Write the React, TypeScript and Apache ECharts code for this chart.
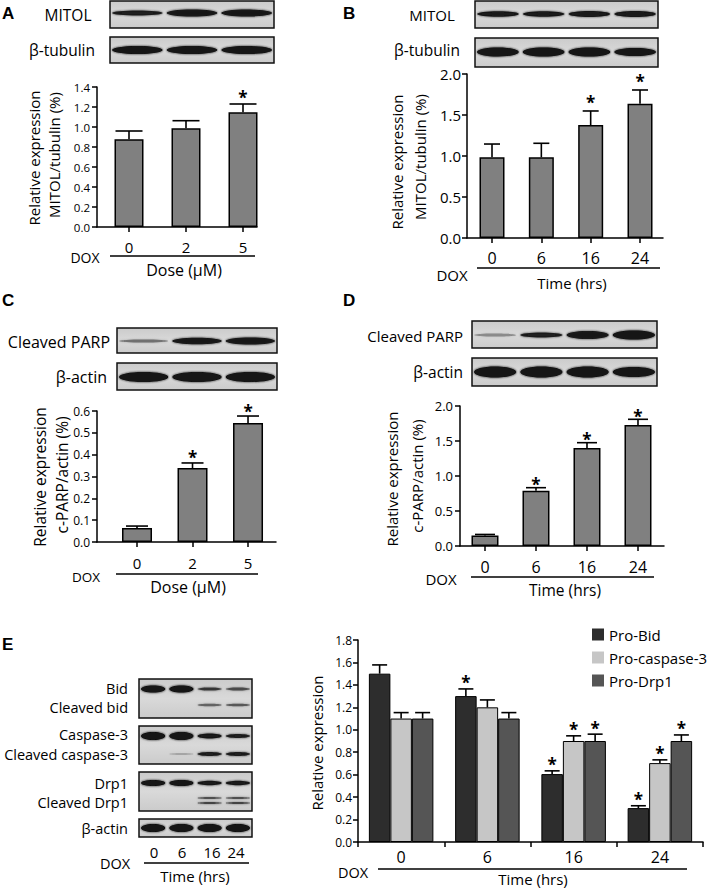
import React, { useEffect, useRef } from "react";
import * as echarts from "echarts";

// ---------- DATA ----------
const CATS_A = ["0", "2", "5"];
const VAL_A = [0.877, 0.987, 1.147];
const ERR_A = [0.96, 1.063, 1.23];
const SIG_A = [0, 0, 1];

const CATS_B = ["0", "6", "16", "24"];
const VAL_B = [0.984, 0.984, 1.378, 1.638];
const ERR_B = [1.146, 1.155, 1.549, 1.805];
const SIG_B = [0, 0, 1, 1];

const CATS_C = ["0", "2", "5"];
const VAL_C = [0.064, 0.339, 0.545];
const ERR_C = [0.073, 0.362, 0.577];
const SIG_C = [0, 1, 1];

const CATS_D = ["0", "6", "16", "24"];
const VAL_D = [0.15, 0.79, 1.4, 1.73];
const ERR_D = [0.165, 0.833, 1.476, 1.81];
const SIG_D = [0, 1, 1, 1];

const CATS_E = ["0", "6", "16", "24"];
const NAMES_E = ["Pro-Bid", "Pro-caspase-3", "Pro-Drp1"];
const BID_E = [1.5, 1.3, 0.605, 0.302];
const BID_ERR_E = [1.578, 1.364, 0.634, 0.323];
const BID_SIG_E = [0, 1, 1, 1];
const CASP_E = [1.1, 1.2, 0.9, 0.703];
const CASP_ERR_E = [1.153, 1.266, 0.946, 0.732];
const CASP_SIG_E = [0, 0, 1, 1];
const DRP_E = [1.1, 1.1, 0.9, 0.9];
const DRP_ERR_E = [1.153, 1.153, 0.961, 0.954];
const DRP_SIG_E = [0, 0, 1, 1];

// ---------- STYLE ----------
const FONT = "'Open Sans', sans-serif";
const BAR_GRAY = "#808080";
const E_COLORS = ["#2d2d2d", "#c6c6c6", "#555555"];

// western-blot decoration (positions only)
const BLOTS = [
  { x0: 110, x1: 274, y0: 1, y1: 28, n: 3, bands: [{ y: 13, l: [[0.85, 5], [0.95, 7], [0.95, 7]] }] },
  { x0: 110, x1: 274, y0: 37, y1: 63, n: 3, bands: [{ y: 50, l: [[1, 8], [1, 8], [1, 8]] }] },
  { x0: 475, x1: 658, y0: 1, y1: 28, n: 4, bands: [{ y: 14, l: [[0.9, 5.5], [0.9, 5.5], [0.9, 6], [0.9, 6]] }] },
  { x0: 475, x1: 658, y0: 38, y1: 67, n: 4, bands: [{ y: 52, l: [[1, 9], [1, 9], [1, 9], [1, 8]] }] },
  { x0: 117, x1: 277, y0: 328, y1: 353, n: 3, bands: [{ y: 341, l: [[0.45, 3], [0.95, 6.5], [0.95, 7]] }] },
  { x0: 117, x1: 277, y0: 363, y1: 390, n: 3, bands: [{ y: 377, l: [[1, 10], [1, 10], [1, 10]] }] },
  { x0: 472, x1: 657, y0: 321, y1: 348, n: 4, bands: [{ y: 335, l: [[0.35, 3], [0.85, 5], [0.95, 8], [1, 9]] }] },
  { x0: 472, x1: 657, y0: 358, y1: 386, n: 4, bands: [{ y: 372, l: [[1, 11], [1, 11], [1, 11], [1, 10]] }] },
  {
    x0: 139, x1: 252, y0: 679, y1: 718, n: 4,
    bands: [
      { y: 689, l: [[1, 7], [1, 7], [0.7, 3], [0.6, 3]] },
      { y: 705, l: [[0, 0], [0, 0], [0.5, 2.5], [0.55, 2.5]] },
    ],
  },
  {
    x0: 139, x1: 252, y0: 726, y1: 764, n: 4,
    bands: [
      { y: 736, l: [[1, 8], [1, 8], [0.9, 5], [0.85, 4]] },
      { y: 754, l: [[0, 0], [0.2, 2], [0.85, 4], [0.85, 4]] },
    ],
  },
  {
    x0: 139, x1: 252, y0: 772, y1: 811, n: 4,
    bands: [
      { y: 783, l: [[1, 6], [1, 6], [0.9, 4.5], [0.9, 4.5]] },
      { y: 798, l: [[0, 0], [0, 0], [0.6, 2], [0.6, 2]] },
      { y: 803, l: [[0, 0], [0, 0], [0.65, 2], [0.65, 2]] },
    ],
  },
  { x0: 139, x1: 252, y0: 819, y1: 837, n: 4, bands: [{ y: 828, l: [[1, 8], [1, 8], [1, 8], [1, 8]] }] },
];

function blotElements(): any[] {
  const out: any[] = [];
  BLOTS.forEach((b) => {
    out.push({
      type: "rect",
      shape: { x: b.x0, y: b.y0, width: b.x1 - b.x0, height: b.y1 - b.y0 },
      style: {
        fill: new echarts.graphic.LinearGradient(0, 0, 0, 1, [
          { offset: 0, color: "#cbcbcb" },
          { offset: 0.5, color: "#d9d9d9" },
          { offset: 1, color: "#cbcbcb" },
        ]),
        stroke: "#111",
        lineWidth: 1.5,
      },
    });
    const lw = (b.x1 - b.x0) / b.n;
    b.bands.forEach((band) => {
      band.l.forEach(([a, t], i) => {
        if (a <= 0 || t <= 0) return;
        const col = `rgba(18,18,18,${a})`;
        out.push({
          type: "ellipse",
          shape: { cx: b.x0 + lw * (i + 0.5), cy: band.y, rx: lw * 0.5 - 2, ry: t / 2 },
          style: { fill: col, shadowBlur: 2, shadowColor: col },
        });
      });
    });
  });
  return out;
}

function txt(x: number, y: number, text: string, size: number, align = "center", extra: any = {}) {
  return {
    type: "text",
    x,
    y,
    rotation: extra.rotation || 0,
    style: {
      text,
      fontSize: size,
      fontFamily: extra.family || FONT,
      fontWeight: extra.weight || "normal",
      fill: "#000",
      align,
      textAlign: align,
      verticalAlign: "middle",
      textVerticalAlign: "middle",
    },
  };
}

function hline(x1: number, x2: number, y: number) {
  return { type: "line", shape: { x1, y1: y, x2, y2: y }, style: { stroke: "#000", lineWidth: 1.5 } };
}

const AXLINE = { color: "#000", width: 1.5 };

function yAx(gi: number, max: number, interval: number, fs: number, margin: number) {
  return {
    gridIndex: gi,
    type: "value",
    min: 0,
    max,
    interval,
    axisLine: { show: true, onZero: false, lineStyle: AXLINE },
    axisTick: { show: true, length: 5, lineStyle: AXLINE },
    axisLabel: { color: "#000", fontSize: fs, fontFamily: FONT, margin, formatter: (v: number) => v.toFixed(1) },
    splitLine: { show: false },
  };
}

function xVal(gi: number, min: number, max: number, cats: string[], fs: number, margin: number) {
  const idx = cats.map((_, i) => i);
  return {
    gridIndex: gi,
    type: "value",
    min,
    max,
    axisLine: { show: true, onZero: false, lineStyle: AXLINE },
    axisTick: { show: true, length: 5, customValues: idx, lineStyle: AXLINE },
    axisLabel: {
      customValues: idx,
      color: "#000",
      fontSize: fs,
      fontFamily: FONT,
      margin,
      formatter: (v: number) => cats[Math.round(v)] ?? "",
    },
    splitLine: { show: false },
  };
}

function makeErr(cap: number, starGap: number, offset: number, lw: number) {
  return (params: any, api: any) => {
    const x = api.value(0);
    const v = api.value(1);
    const e = api.value(2);
    const s = api.value(3);
    const p0 = api.coord([x, v]);
    const p1 = api.coord([x, e]);
    const cx = p0[0] + offset;
    const children: any[] = [
      { type: "line", shape: { x1: cx, y1: p0[1], x2: cx, y2: p1[1] }, style: { stroke: "#000", lineWidth: lw } },
      { type: "line", shape: { x1: cx - cap / 2, y1: p1[1], x2: cx + cap / 2, y2: p1[1] }, style: { stroke: "#000", lineWidth: lw } },
    ];
    if (s) {
      children.push({
        type: "text",
        style: {
          text: "*",
          x: cx,
          y: p1[1] - starGap,
          fontSize: 17,
          fontWeight: "bold",
          fontFamily: FONT,
          fill: "#000",
          align: "center",
          textAlign: "center",
          verticalAlign: "middle",
          textVerticalAlign: "middle",
        },
      });
    }
    return { type: "group", children };
  };
}

function simplePanel(gi: number, vals: number[], errs: number[], sig: number[], barW: number, cap: number, starGap: number) {
  return [
    {
      type: "bar",
      xAxisIndex: gi,
      yAxisIndex: gi,
      data: vals.map((v, k) => [k, v]),
      barWidth: barW,
      itemStyle: { color: BAR_GRAY, borderColor: "#000", borderWidth: 1.5 },
      z: 2,
    },
    {
      type: "custom",
      xAxisIndex: gi,
      yAxisIndex: gi,
      data: vals.map((v, k) => [k, v, errs[k], sig[k]]),
      encode: { x: 0, y: 1 },
      renderItem: makeErr(cap, starGap, 0, 1.6),
      z: 3,
    },
  ];
}

function groupedE(): any[] {
  const groups = [
    [BID_E, BID_ERR_E, BID_SIG_E],
    [CASP_E, CASP_ERR_E, CASP_SIG_E],
    [DRP_E, DRP_ERR_E, DRP_SIG_E],
  ];
  const bw = 21.5;
  const out: any[] = [];
  groups.forEach((g, si) => {
    out.push({
      type: "bar",
      name: NAMES_E[si],
      xAxisIndex: 4,
      yAxisIndex: 4,
      data: g[0],
      barWidth: bw,
      barGap: "0%",
      itemStyle: { color: E_COLORS[si], borderColor: "#000", borderWidth: 1 },
      z: 2,
    });
  });
  groups.forEach((g, si) => {
    out.push({
      type: "custom",
      xAxisIndex: 4,
      yAxisIndex: 4,
      data: (g[0] as number[]).map((v, k) => [k, v, (g[1] as number[])[k], (g[2] as number[])[k]]),
      encode: { x: 0, y: 1 },
      renderItem: makeErr(15, 6, (si - 1) * bw, 1.6),
      z: 3,
    });
  });
  return out;
}

export default function App() {
  const ref = useRef<HTMLDivElement>(null);

  useEffect(() => {
    if (!ref.current) return;
    const chart = echarts.init(ref.current, null, { renderer: "svg" });

    const LF = "'Liberation Sans', Arial, sans-serif";
    const letters = [
      txt(2, 13, "A", 17, "left", { weight: "bold", family: LF }),
      txt(343, 13, "B", 17, "left", { weight: "bold", family: LF }),
      txt(2, 300, "C", 17, "left", { weight: "bold", family: LF }),
      txt(343, 300, "D", 17, "left", { weight: "bold", family: LF }),
      txt(2, 644, "E", 17, "left", { weight: "bold", family: LF }),
    ];
    const R = Math.PI / 2;
    const labels = [
      // A
      txt(68, 15, "MITOL", 15.5),
      txt(62, 50, "β-tubulin", 15.5),
      txt(34, 158, "Relative expression", 15, "center", { rotation: R }),
      txt(54, 155, "MITOL/tubulin (%)", 15, "center", { rotation: R }),
      txt(85, 257, "DOX", 14),
      hline(110, 255, 256),
      txt(184, 270, "Dose (μM)", 16),
      // B
      txt(432, 15, "MITOL", 15),
      txt(427, 50, "β-tubulin", 15.5),
      txt(397, 162, "Relative expression", 15, "center", { rotation: R }),
      txt(420, 157, "MITOL/tubulin (%)", 15, "center", { rotation: R }),
      txt(452, 275, "DOX", 15),
      hline(477, 660, 268),
      txt(572, 283, "Time (hrs)", 15),
      // C
      txt(110, 342, "Cleaved PARP", 16, "right"),
      txt(107, 377, "β-actin", 16, "right"),
      txt(40, 477, "Relative expression", 15.5, "center", { rotation: R }),
      txt(62, 475, "c-PARP/actin (%)", 15.5, "center", { rotation: R }),
      txt(86, 577, "DOX", 13.5),
      hline(116, 258, 574),
      txt(188, 587, "Dose (μM)", 16),
      // D
      txt(463, 336, "Cleaved PARP", 15, "right"),
      txt(463, 372, "β-actin", 15.5, "right"),
      txt(392, 479, "Relative expression", 15, "center", { rotation: R }),
      txt(417, 476, "c-PARP/actin (%)", 15, "center", { rotation: R }),
      txt(441, 579, "DOX", 15),
      hline(471, 654, 577),
      txt(565, 590, "Time (hrs)", 15.5),
      // E blot
      txt(128, 688, "Bid", 14.5, "right"),
      txt(128, 707, "Cleaved bid", 14.5, "right"),
      txt(128, 734, "Caspase-3", 14.5, "right"),
      txt(128, 754, "Cleaved caspase-3", 14.5, "right"),
      txt(128, 783, "Drp1", 14.5, "right"),
      txt(128, 802, "Cleaved Drp1", 14.5, "right"),
      txt(128, 828, "β-actin", 14.5, "right"),
      txt(154, 852, "0", 15),
      txt(182, 852, "6", 15),
      txt(212, 852, "16", 15),
      txt(236, 852, "24", 15),
      txt(115, 863, "DOX", 14.5),
      hline(144, 249, 863),
      txt(195, 876, "Time (hrs)", 15),
      // E chart
      txt(317, 743, "Relative expression", 15, "center", { rotation: R }),
      txt(353, 872, "DOX", 14.5),
      hline(378, 687, 869),
      txt(533, 879, "Time (hrs)", 15),
    ];

    const option: any = {
      animation: false,
      backgroundColor: "#fff",
      grid: [
        { left: 97, top: 87, width: 160, height: 140 },
        { left: 467, top: 74, width: 196, height: 164 },
        { left: 97, top: 411, width: 179, height: 131 },
        { left: 460, top: 406, width: 204, height: 140 },
        { left: 358, top: 640, width: 345, height: 202 },
      ],
      xAxis: [
        xVal(0, -0.5614, 2.2456, CATS_A, 15, 12),
        xVal(1, -0.5068, 3.466, CATS_B, 16, 12),
        xVal(2, -0.7207, 2.504, CATS_C, 15, 13),
        xVal(3, -0.49, 3.51, CATS_D, 16, 13),
        {
          gridIndex: 4,
          type: "category",
          data: CATS_E,
          axisLine: { show: true, onZero: false, lineStyle: AXLINE },
          axisTick: { show: true, length: 5, lineStyle: AXLINE },
          axisLabel: { color: "#000", fontSize: 16, fontFamily: FONT, margin: 7 },
          splitLine: { show: false },
        },
      ],
      yAxis: [
        yAx(0, 1.4, 0.2, 11.5, 7),
        yAx(1, 2.0, 0.5, 15, 6),
        yAx(2, 0.6, 0.1, 12, 7),
        yAx(3, 2.0, 0.5, 13, 7),
        yAx(4, 1.8, 0.2, 12, 6),
      ],
      legend: {
        data: NAMES_E,
        orient: "vertical",
        left: 592,
        top: 627,
        padding: 0,
        itemWidth: 12,
        itemHeight: 12,
        itemGap: 8,
        icon: "rect",
        itemStyle: { borderWidth: 0 },
        textStyle: { fontSize: 15, fontFamily: FONT, color: "#000" },
      },
      series: [
        ...simplePanel(0, VAL_A, ERR_A, SIG_A, 29, 27, 7),
        ...simplePanel(1, VAL_B, ERR_B, SIG_B, 25, 16, 8),
        ...simplePanel(2, VAL_C, ERR_C, SIG_C, 30, 22, 5),
        ...simplePanel(3, VAL_D, ERR_D, SIG_D, 27, 20, 3),
        ...groupedE(),
      ],
      graphic: { elements: [...blotElements(), ...letters, ...labels] },
    };

    chart.setOption(option);
    return () => chart.dispose();
  }, []);

  return (
    <div
      ref={ref}
      style={{ position: "absolute", left: 0, top: 0, width: 709, height: 890, background: "#fff" }}
    />
  );
}
